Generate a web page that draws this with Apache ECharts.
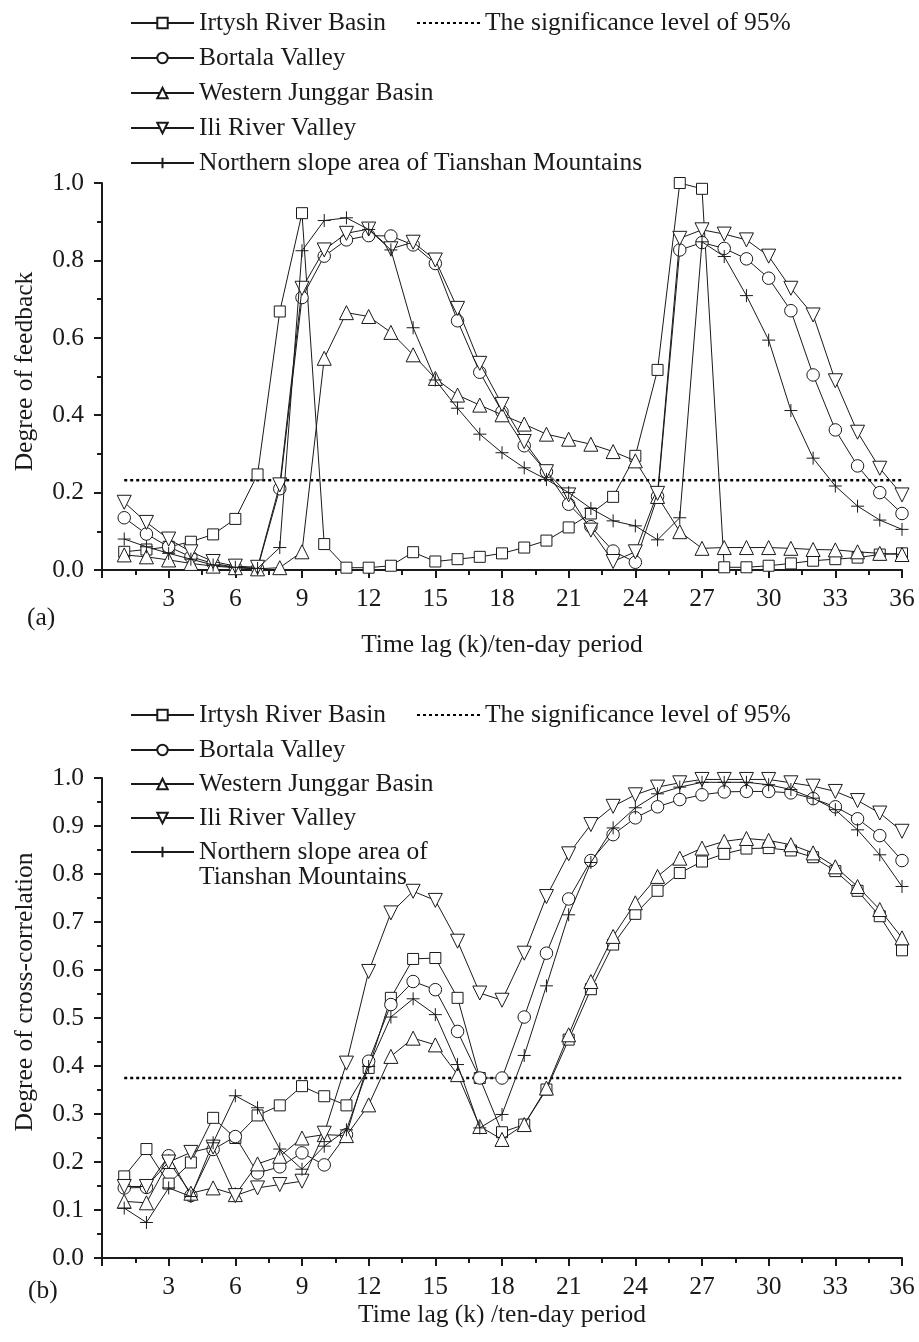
<!DOCTYPE html>
<html>
<head>
<meta charset="utf-8">
<script src="https://cdn.jsdelivr.net/npm/echarts@6/dist/echarts.min.js"></script>
<style>
  html, body { margin: 0; padding: 0; background: #fff; }
  #chart { width: 919px; height: 1342px; }
</style>
</head>
<body>
<div id="chart"></div>
<script>
// time lag k (ten-day periods)
const lags = [1, 2, 3, 4, 5, 6, 7, 8, 9, 10, 11, 12, 13, 14, 15, 16, 17, 18,
              19, 20, 21, 22, 23, 24, 25, 26, 27, 28, 29, 30, 31, 32, 33, 34, 35, 36];
const xTicks = [3, 6, 9, 12, 15, 18, 21, 24, 27, 30, 33, 36];

// (a) degree of feedback
const irtyshA   = [0.047, 0.053, 0.060, 0.073, 0.092, 0.132, 0.247, 0.668, 0.922, 0.067, 0.006, 0.006, 0.011, 0.046, 0.022, 0.028, 0.034, 0.043,
                   0.058, 0.076, 0.110, 0.146, 0.189, 0.295, 0.517, 1.000, 0.985, 0.007, 0.007, 0.011, 0.017, 0.024, 0.028, 0.032, 0.040, 0.043];
const bortalaA  = [0.135, 0.093, 0.060, 0.034, 0.017, 0.007, 0.004, 0.210, 0.704, 0.811, 0.853, 0.864, 0.863, 0.840, 0.792, 0.644, 0.511, 0.409,
                   0.321, 0.254, 0.170, 0.112, 0.049, 0.020, 0.190, 0.827, 0.846, 0.831, 0.804, 0.754, 0.670, 0.504, 0.362, 0.269, 0.200, 0.146];
const westernA  = [0.039, 0.034, 0.026, 0.017, 0.010, 0.006, 0.003, 0.006, 0.047, 0.547, 0.665, 0.655, 0.614, 0.556, 0.495, 0.452, 0.426, 0.401,
                   0.377, 0.351, 0.338, 0.325, 0.306, 0.282, 0.190, 0.099, 0.056, 0.058, 0.058, 0.058, 0.056, 0.053, 0.052, 0.047, 0.043, 0.040];
const iliA      = [0.175, 0.123, 0.080, 0.047, 0.022, 0.010, 0.007, 0.220, 0.728, 0.827, 0.870, 0.881, 0.830, 0.847, 0.801, 0.676, 0.534, 0.428,
                   0.332, 0.254, 0.194, 0.103, 0.022, 0.047, 0.198, 0.857, 0.879, 0.868, 0.853, 0.811, 0.728, 0.659, 0.489, 0.356, 0.263, 0.194];
const northA    = [0.080, 0.060, 0.043, 0.028, 0.013, 0.007, 0.004, 0.058, 0.825, 0.903, 0.910, 0.880, 0.827, 0.626, 0.491, 0.418, 0.351, 0.303,
                   0.264, 0.234, 0.200, 0.159, 0.127, 0.114, 0.078, 0.135, 0.848, 0.810, 0.709, 0.594, 0.412, 0.289, 0.217, 0.165, 0.129, 0.105];
const sigA = 0.232;

// (b) degree of cross-correlation
const irtyshB   = [0.170, 0.227, 0.155, 0.199, 0.292, 0.250, 0.297, 0.318, 0.358, 0.337, 0.318, 0.396, 0.542, 0.623, 0.625, 0.542, 0.375, 0.262,
                   0.278, 0.351, 0.455, 0.560, 0.653, 0.717, 0.765, 0.802, 0.826, 0.842, 0.853, 0.854, 0.849, 0.835, 0.806, 0.765, 0.712, 0.641];
const bortalaB  = [0.146, 0.147, 0.213, 0.130, 0.226, 0.253, 0.177, 0.190, 0.219, 0.194, 0.257, 0.410, 0.528, 0.576, 0.559, 0.472, 0.375, 0.375,
                   0.502, 0.635, 0.748, 0.828, 0.882, 0.917, 0.940, 0.955, 0.965, 0.971, 0.972, 0.972, 0.969, 0.957, 0.940, 0.915, 0.880, 0.828];
const westernB  = [0.118, 0.115, 0.201, 0.135, 0.146, 0.132, 0.196, 0.212, 0.250, 0.257, 0.255, 0.319, 0.420, 0.458, 0.444, 0.382, 0.274, 0.247,
                   0.278, 0.354, 0.465, 0.576, 0.670, 0.740, 0.795, 0.833, 0.854, 0.868, 0.874, 0.870, 0.861, 0.844, 0.815, 0.774, 0.726, 0.667];
const iliB      = [0.149, 0.149, 0.200, 0.220, 0.231, 0.130, 0.146, 0.153, 0.160, 0.260, 0.406, 0.597, 0.719, 0.764, 0.745, 0.660, 0.552, 0.537,
                   0.635, 0.753, 0.842, 0.903, 0.941, 0.965, 0.981, 0.990, 0.997, 0.997, 0.997, 0.997, 0.990, 0.983, 0.972, 0.953, 0.927, 0.889];
const northB    = [0.104, 0.074, 0.146, 0.128, 0.240, 0.338, 0.313, 0.227, 0.185, 0.233, 0.267, 0.399, 0.502, 0.540, 0.507, 0.403, 0.271, 0.299,
                   0.422, 0.567, 0.715, 0.824, 0.896, 0.938, 0.967, 0.981, 0.991, 0.991, 0.991, 0.986, 0.976, 0.958, 0.934, 0.892, 0.840, 0.774];
const sigB = 0.375;

const names = ['Irtysh River Basin', 'Bortala Valley', 'Western Junggar Basin',
               'Ili River Valley', 'Northern slope area of Tianshan Mountains'];
const sigName = 'The significance level of 95%';

const INK = '#1a1a1a';
const FONT = 'Liberation Serif';
const FS = 25.5;

// marker per region
const marks = [
    { symbol: 'rect', size: 11, rotate: 0 },
    { symbol: 'circle', size: 12.5, rotate: 0 },
    { symbol: 'triangle', size: 14, rotate: 0 },
    { symbol: 'triangle', size: 14, rotate: 180 },
    { symbol: 'path://M0,6L12,6M6,0L6,12', size: 13, rotate: 0 }
];

function regionSeries(idx, values, gi) {
    return {
        name: names[idx],
        type: 'line',
        xAxisIndex: gi,
        yAxisIndex: gi,
        data: lags.map((k, i) => [k, values[i]]),
        symbol: marks[idx].symbol,
        symbolSize: marks[idx].size,
        symbolRotate: marks[idx].rotate,
        showSymbol: true,
        lineStyle: { color: INK, width: 1 },
        itemStyle: { color: '#fff', borderColor: INK, borderWidth: 1 },
        z: 3 + idx
    };
}

function sigSeries(level, gi) {
    return {
        name: sigName,
        type: 'line',
        xAxisIndex: gi,
        yAxisIndex: gi,
        data: [[lags[0], level], [lags[lags.length - 1], level]],
        symbol: 'circle',
        showSymbol: false,
        lineStyle: { color: '#000', width: 2.5, type: [3, 3] },
        itemStyle: { color: INK },
        z: 2
    };
}

function xAxis(gi, title, gap) {
    return {
        type: 'value', gridIndex: gi, min: 0, max: 36, interval: 3,
        name: title, nameLocation: 'middle', nameGap: gap,
        nameTextStyle: { fontFamily: FONT, fontSize: FS, color: INK },
        axisLine: { lineStyle: { color: INK, width: 2 } },
        axisTick: { inside: false, length: 8, lineStyle: { width: 2 } },
        minorTick: { show: true, splitNumber: 2, length: 5, lineStyle: { color: INK, width: 2 } },
        splitLine: { show: false },
        axisLabel: {
            margin: 16, fontFamily: FONT, fontSize: FS, color: INK,
            formatter: v => (xTicks.indexOf(v) >= 0 ? String(v) : '')
        }
    };
}

function yAxis(gi, title, step, shift) {
    return {
        type: 'value', gridIndex: gi, min: 0, max: 1, interval: step,
        name: title, nameLocation: 'middle', nameGap: 64,
        nameTextStyle: { fontFamily: FONT, fontSize: FS, color: INK, padding: [0, 0, 0, shift] },
        axisLine: { show: true, lineStyle: { color: INK, width: 2 } },
        axisTick: { show: true, inside: false, length: 8, lineStyle: { width: 2 } },
        minorTick: { show: true, splitNumber: 2, length: 5, lineStyle: { color: INK, width: 2 } },
        splitLine: { show: false },
        axisLabel: { margin: 18, fontFamily: FONT, fontSize: FS, color: INK, formatter: v => v.toFixed(1) }
    };
}

const legendText = { fontFamily: FONT, fontSize: FS, color: INK, lineHeight: 26 };
function legendRow(top) {
    return {
        left: 125, top: top, orient: 'horizontal', itemWidth: 63, itemHeight: 13, itemGap: 30,
        selectedMode: false, textStyle: legendText,
        data: [names[0], { name: sigName, itemStyle: { opacity: 0 } }]
    };
}
function legendCol(top, gap, fmt) {
    return {
        left: 125, top: top, orient: 'vertical', itemWidth: 63, itemHeight: 13, itemGap: gap,
        selectedMode: false, textStyle: legendText, formatter: fmt,
        data: names.slice(1)
    };
}

const chart = echarts.init(document.getElementById('chart'), null, { renderer: 'canvas' });
chart.setOption({
    animation: false,
    backgroundColor: '#fff',
    textStyle: { fontFamily: FONT, color: INK },
    grid: [
        { left: 102, top: 183, width: 800, height: 387 },
        { left: 102, top: 778, width: 800, height: 480 }
    ],
    xAxis: [
        xAxis(0, 'Time lag (k)/ten-day period', 62),
        xAxis(1, 'Time lag (k) /ten-day period', 44)
    ],
    yAxis: [
        yAxis(0, 'Degree of feedback', 0.2, 10),
        yAxis(1, 'Degree of cross-correlation', 0.1, 52)
    ],
    legend: [
        legendRow(5),
        legendCol(40, 9),
        legendRow(697),
        legendCol(732, 8, n => (n === names[4] ? 'Northern slope area of' : n))
    ],
    graphic: [
        { type: 'text', left: 27, top: 605, style: { text: '(a)', font: FS + 'px "' + FONT + '"', fill: INK } },
        { type: 'text', left: 28, top: 1278, style: { text: '(b)', font: FS + 'px "' + FONT + '"', fill: INK } },
        { type: 'text', left: 199, top: 864, style: { text: 'Tianshan Mountains', font: FS + 'px "' + FONT + '"', fill: INK } }
    ],
    series: [
        sigSeries(sigA, 0),
        regionSeries(0, irtyshA, 0),
        regionSeries(1, bortalaA, 0),
        regionSeries(2, westernA, 0),
        regionSeries(3, iliA, 0),
        regionSeries(4, northA, 0),
        sigSeries(sigB, 1),
        regionSeries(0, irtyshB, 1),
        regionSeries(1, bortalaB, 1),
        regionSeries(2, westernB, 1),
        regionSeries(3, iliB, 1),
        regionSeries(4, northB, 1)
    ]
});
</script>
</body>
</html>
